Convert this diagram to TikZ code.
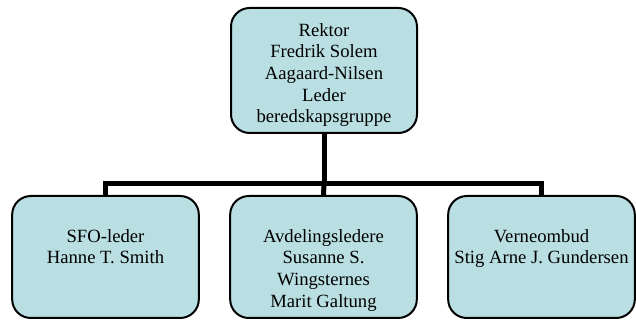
\documentclass[tikz,border=0pt]{standalone}
\usepackage{fontspec}
\setmainfont{Liberation Serif}
\usetikzlibrary{calc}
\definecolor{boxfill}{RGB}{186,223,227}

\begin{document}
\begin{tikzpicture}[
  x=0.75pt,
  y=-0.75pt,
  orgbox/.style 2 args={
    rectangle,
    draw=black,
    line width=1.5pt,
    rounded corners=14pt,
    fill=boxfill,
    minimum width=#1,
    minimum height=#2,
    inner sep=0},
  orgtext/.style={
    anchor=north,
    align=center,
    inner sep=0,
    font=\fontsize{14pt}{16.2pt}\selectfont},
  conn/.style={draw=black,line width=3.75pt,line join=miter}]
  \useasboundingbox (0,0) rectangle (636,320);
  % draw top box
  \node[orgbox={139.5pt}{93.75pt}] (rektor) at (324, 70.5) {};
  \node[orgtext] (rektortxt) at ($(rektor.north)+(0,16)$)
    {Rektor\\Fredrik Solem\\Aagaard-Nilsen\\Leder\\beredskapsgruppe};
  % draw bottom boxes
  \node[orgbox={140pt}{91.5pt}] (sfo)   at (105.5, 257) {};
  \node[orgbox={140pt}{91.5pt}] (avd)   at (323.5, 257) {};
  \node[orgbox={140pt}{91.5pt}] (verne) at (541.5, 257) {};
  \node[orgtext] (sfotxt)   at ($(sfo.north)+(0,34)$)   {SFO-leder\\Hanne T. Smith};
  \node[orgtext] (avdtxt)   at ($(avd.north)+(0,34)$)   {Avdelingsledere\\Susanne S.\\Wingsternes\\Marit Galtung};
  \node[orgtext] (vernetxt) at ($(verne.north)+(0,34)$) {Verneombud\\ Stig Arne J. Gundersen};
  % draw connectors
  \draw[conn] (rektor.south) -- ++(0,50) coordinate (split);
  \draw[conn] (sfo.north) |- (split) -| (verne.north);
  \draw[conn] (split) -- (avd.north);
\end{tikzpicture}
\end{document}
